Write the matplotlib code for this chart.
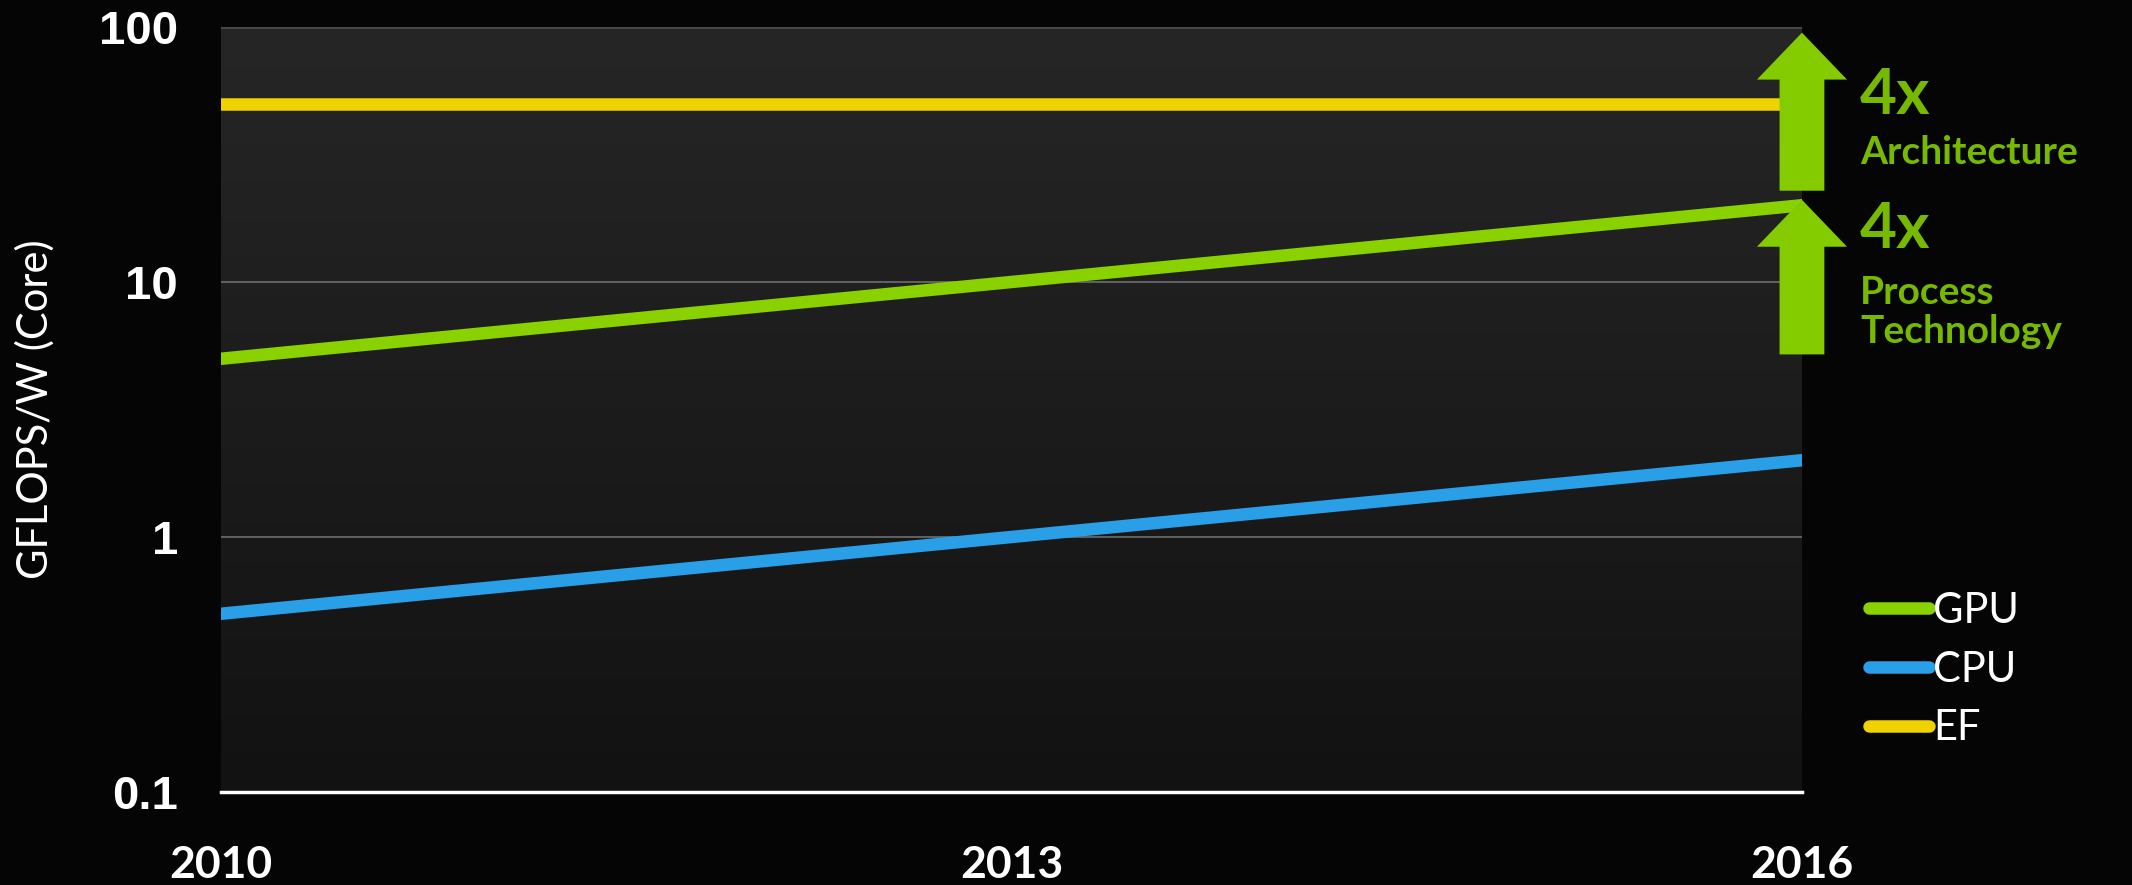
import matplotlib.pyplot as plt
import numpy as np
from matplotlib.patches import Polygon

years = [2010, 2016]
gpu = [5, 20]
cpu = [0.5, 2]
ef = [50, 50]
xtick_years = [2010, 2013, 2016]
ytick_vals = [0.1, 1, 10, 100]
ytick_labels = ['0.1', '1', '10', '100']

# 4x annotation arrows: (bottom, top) in GFLOPS/W
arrow_spans = [(5.2, 21), (22.8, 95)]

gpu_color = '#8ad100'
cpu_color = '#289fe6'
ef_color = '#f0d200'
arrow_color = '#84cc00'
text_green = '#76b900'

fig = plt.figure(figsize=(21.32, 8.85), dpi=100)
fig.patch.set_facecolor('#050505')
ax = fig.add_axes([0.1037, 0.1051, 0.7415, 0.8644])
ax.set_facecolor('#1b1b1b')

# soft vertical gradient behind the plot
grad = np.linspace(0, 1, 256).reshape(-1, 1)
ax.imshow(grad, extent=[0, 1, 0, 1], transform=ax.transAxes, aspect='auto',
          cmap=plt.matplotlib.colors.LinearSegmentedColormap.from_list(
              'bg', ['#262626', '#121212']), zorder=0)

ax.set_yscale('log')
ax.set_xlim(2010, 2016)
ax.set_ylim(0.1, 100)

for v in [1, 10]:
    ax.axhline(v, color='#6e6e6e', lw=1.2, zorder=1)
ax.axhline(100, color='#4a4a4a', lw=2, zorder=1)

ax.plot(years, gpu, color=gpu_color, lw=9, solid_capstyle='round', label='GPU', zorder=3)
ax.plot(years, cpu, color=cpu_color, lw=9, solid_capstyle='round', label='CPU', zorder=3)
ax.plot(years, ef, color=ef_color, lw=9, solid_capstyle='round', label='EF', zorder=3)

for s in ['left', 'right', 'top']:
    ax.spines[s].set_visible(False)
ax.spines['bottom'].set_color('white')
ax.spines['bottom'].set_linewidth(2.5)

ax.set_xticks(xtick_years)
ax.set_xticklabels([str(y) for y in xtick_years], fontfamily='Lato',
                   fontweight='bold', fontsize=32, color='white')
ax.set_yticks(ytick_vals)
ax.set_yticklabels(ytick_labels, fontfamily='Liberation Sans',
                   fontweight='bold', fontsize=34, color='white')
ax.minorticks_off()
ax.tick_params(axis='both', length=0)
ax.tick_params(axis='x', pad=38)
ax.tick_params(axis='y', pad=31)

ax.set_ylabel('GFLOPS/W (Core)', fontfamily='Lato', fontsize=30, color='white')
ax.yaxis.set_label_coords(-0.105, 0.5)

# arrows drawn in data space; widths in years, head height in decades
head_hw, shaft_hw, head_h = 0.171, 0.085, 0.184
x0 = years[-1]
for lo, hi in arrow_spans:
    base = hi / 10 ** head_h
    pts = [(x0 - shaft_hw, lo), (x0 + shaft_hw, lo), (x0 + shaft_hw, base),
           (x0 + head_hw, base), (x0, hi), (x0 - head_hw, base),
           (x0 - shaft_hw, base)]
    ax.add_patch(Polygon(pts, closed=True, facecolor=arrow_color,
                         edgecolor='none', clip_on=False, zorder=5))

fig.text(1860 / 2132, 1 - 95 / 885, '4x', fontfamily='Lato', fontweight='bold',
         fontsize=46, color=text_green, va='center', ha='left')
fig.text(1860 / 2132, 1 - 152 / 885, 'Architecture', fontfamily='Lato',
         fontweight='bold', fontsize=28, color=text_green, va='center', ha='left')
fig.text(1860 / 2132, 1 - 230 / 885, '4x', fontfamily='Lato', fontweight='bold',
         fontsize=46, color=text_green, va='center', ha='left')
fig.text(1860 / 2132, 1 - 312 / 885, 'Process\nTechnology', fontfamily='Lato',
         fontweight='bold', fontsize=28, color=text_green, va='center', ha='left',
         linespacing=1.15)

leg = ax.legend(loc='upper left', bbox_to_anchor=(1852 / 2132, 1 - 575 / 885),
                bbox_transform=fig.transFigure, frameon=False,
                prop={'family': 'Lato', 'size': 30}, handlelength=1.45,
                handletextpad=0.1, labelspacing=0.5, borderaxespad=0)
for t in leg.get_texts():
    t.set_color('white')

fig.savefig('out.png', dpi=100, facecolor=fig.get_facecolor())
